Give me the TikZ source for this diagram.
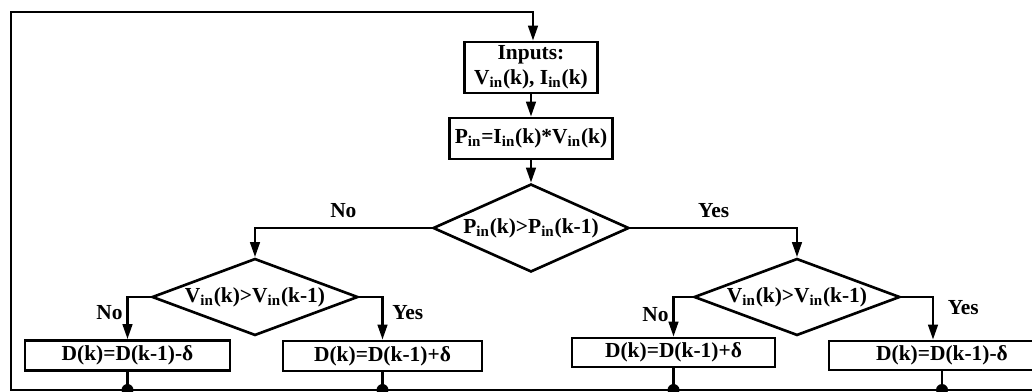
\documentclass[tikz,border=0pt]{standalone}
\usepackage{fontspec}
\setmainfont{Liberation Serif}
\usetikzlibrary{arrows.meta, shapes.geometric, positioning, calc}

\begin{document}
\begin{tikzpicture}[x=0.02cm, y=-0.02cm, line width=1.5pt,
    font=\fontsize{12.2}{14.2}\selectfont\bfseries,
    hop/.style={-{Triangle[length=0.3cm,width=0.19cm]}},
    khoi/.style={draw, rectangle, inner sep=0pt, align=center},
    thoi/.style={draw, diamond, inner sep=0pt},
    nhan/.style={inner sep=2pt}]

    \useasboundingbox (0,0) rectangle (1032,392);
    \clip (0,0) rectangle (1032,392);

    % Vẽ các khối
    \node[khoi, minimum width=2.66cm, minimum height=1.02cm] (inp) at (531,67.5) {Inputs:\\V\textsubscript{in}(k), I\textsubscript{in}(k)};
    \node[khoi, minimum width=3.26cm, minimum height=0.82cm] (pin) at (531,138.5) {P\textsubscript{in}=I\textsubscript{in}(k)*V\textsubscript{in}(k)};
    \node[thoi, minimum width=3.92cm, minimum height=1.76cm, aspect=2.23] (dm) at (531,228) {P\textsubscript{in}(k)>P\textsubscript{in}(k-1)};
    \node[thoi, minimum width=4.12cm, minimum height=1.54cm, aspect=2.68] (dl) at (255,297) {V\textsubscript{in}(k)>V\textsubscript{in}(k-1)};
    \node[thoi, minimum width=4.12cm, minimum height=1.54cm, aspect=2.68] (dr) at (797,297) {V\textsubscript{in}(k)>V\textsubscript{in}(k-1)};
    \node[khoi, minimum width=4.1cm, minimum height=0.6cm] (b1) at (127.5,355.5) {D(k)=D(k-1)-δ};
    \node[khoi, minimum width=3.98cm, minimum height=0.6cm] (b2) at (382.5,356) {D(k)=D(k-1)+δ};
    \node[khoi, minimum width=4.06cm, minimum height=0.58cm] (b3) at (673.5,352.5) {D(k)=D(k-1)+δ};
    \node[khoi, minimum width=4.52cm, minimum height=0.58cm] (b4) at (942,355.5) {D(k)=D(k-1)-δ};

    % Vẽ các mũi tên
    \draw[hop] (inp) -- (pin);
    \draw[hop] (pin) -- (dm);
    \draw[hop] (dm.west) -| (dl.north) node[pos=0.25, above, yshift=2pt] {No};
    \draw[hop] (dm.east) -| (dr.north) node[pos=0.25, above, yshift=2pt] {Yes};
    \draw[hop] (dl.west) -| (b1.north) node[nhan, pos=0.68, left] {No};
    \draw[hop] (dl.east) -| (b2.north) node[nhan, pos=0.68, right, xshift=0.1cm] {Yes};
    \draw[hop] (dr.west) -| (b3.north) node[nhan, pos=0.72, left] {No};
    \draw[hop] (dr.east) -| ([xshift=-0.18cm]b4.north) node[nhan, pos=0.62, right, xshift=0.2cm] {Yes};

    % Vòng lặp
    \coordinate (bl) at (11,390);
    \coordinate (br) at (1040,390);
    \coordinate (tl) at (11,12);
    \draw[hop] (br) -- (bl) -- (tl) -| ([xshift=0.04cm]inp.north);
    \foreach \b in {b1,b2,b3,b4}{
        \draw (\b.south) -- (\b.south |- bl);
        \fill (\b.south |- bl) circle (0.12cm);
    }

\end{tikzpicture}
\end{document}
